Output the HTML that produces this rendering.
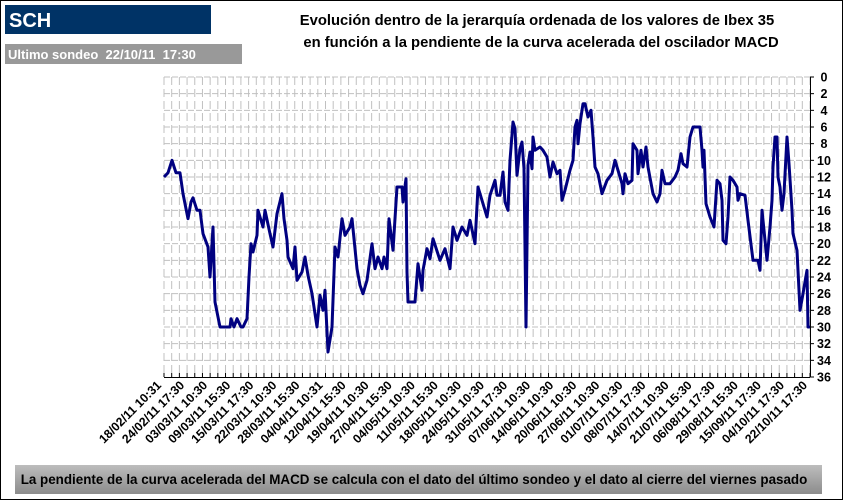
<!DOCTYPE html>
<html><head><meta charset="utf-8"><style>
html,body{margin:0;padding:0;background:#fff}
svg{display:block;font-family:"Liberation Sans",Arial,sans-serif}
text{white-space:pre}
</style></head><body>
<svg id="chart" width="843" height="500" viewBox="0 0 843 500">
<defs><linearGradient id="bg" x1="0" y1="0" x2="0" y2="1"><stop offset="0" stop-color="#bdbdbd"/><stop offset="1" stop-color="#8c8c8c"/></linearGradient></defs>
<rect x="0.5" y="0.5" width="842" height="499" fill="#fff" stroke="#000"/>
<rect x="5" y="5" width="206" height="29" fill="#003366"/>
<text x="9" y="27" fill="#fff" font-size="20" font-weight="bold">SCH</text>
<rect x="5" y="44" width="237" height="20" fill="#999"/>
<text x="8" y="59" fill="#fff" font-size="13" font-weight="bold" xml:space="preserve">Ultimo sondeo  22/10/11  17:30</text>
<text x="537" y="25" text-anchor="middle" font-size="14.8" font-weight="bold">Evolución dentro de la jerarquía ordenada de los valores de Ibex 35</text>
<text x="541" y="47" text-anchor="middle" font-size="14.8" font-weight="bold">en función a la pendiente de la curva acelerada del oscilador MACD</text>
<g id="grid"></g>
<g id="axes"></g>
<g id="series"></g>
<rect x="15" y="465" width="807" height="29" fill="url(#bg)"/>
<text x="414" y="484" text-anchor="middle" font-size="13.4" font-weight="bold">La pendiente de la curva acelerada del MACD se calcula con el dato del último sondeo y el dato al cierre del viernes pasado</text>
</svg>
<script>
const xLabels=["18/02/11 10:31","24/02/11 17:30","03/03/11 10:30","09/03/11 15:30","15/03/11 17:30","22/03/11 10:30","28/03/11 15:30","04/04/11 10:31","12/04/11 15:30","19/04/11 10:30","27/04/11 15:30","04/05/11 10:30","11/05/11 15:30","18/05/11 10:30","24/05/11 10:30","31/05/11 17:30","07/06/11 10:30","14/06/11 10:30","20/06/11 10:30","27/06/11 10:30","01/07/11 10:30","08/07/11 17:30","14/07/11 10:30","21/07/11 15:30","06/08/11 17:30","29/08/11 15:30","15/09/11 17:30","04/10/11 17:30","22/10/11 17:30"];
const yTicks=[0,2,4,6,8,10,12,14,16,18,20,22,24,26,28,30,32,34,36];
// [sample number, rank]
const obsFeb=[[0,12],[4,11.5],[8,10],[12,11.5],[16,11.5],[19,14],[24,17],[27,15],[29,14.5],[33,16],[36,16],[39,18.8],[44,20.4],[46,24],[49,18],[51,27],[56,30],[66,30],[67,29],[70,30],[73,29],[77,30],[79,30],[83,29],[85,24],[87,20],[89,21],[93,19],[94,16],[99,18],[101,16],[106,18.8],[109,20.4],[113,16.4],[118,14],[120,17],[123,19.6],[124,21.6],[129,23],[131,20.4],[133,24.4],[138,23.4],[141,21.6],[144,23.8],[148,26],[153,30],[156,26.2],[159,28],[161,25.6],[164,33],[168,30],[171,20.4],[174,21.6],[178,17],[181,19],[186,18],[188,17],[193,23],[196,25],[199,26],[203,24.4],[208,20],[211,23],[214,21.6],[218,23],[220,21.6],[223,23],[225,17]];
const obsMay=[[229,20.8],[233,13.2],[238,13.2],[239,15],[242,12.2],[243,23.4],[244,27],[251,27],[254,22.4],[258,25.6],[259,23.2],[263,20.6],[266,21.8],[269,19.4],[276,22],[281,20.6],[286,23],[289,18],[293,19.6],[298,18],[303,19],[306,17.2],[311,20],[314,13.2],[319,15.2],[323,16.8],[326,14.2],[331,12.4],[333,14.2],[336,14.2],[339,11.4],[341,15],[344,16],[346,10],[349,5.4],[351,6.2],[353,11.8],[356,8.6],[358,7.8],[360,11],[362,30],[364,10.6],[366,9],[368,11],[369,7.2],[371,8.8],[376,8.4],[379,8.8],[383,9.6],[386,12],[389,10.2],[393,11.6]];
const obsJul=[[396,11.2],[398,14.8],[401,13.6],[406,11.2],[409,10],[411,6],[413,5.2],[414,8],[416,5.6],[419,3.2],[421,3.2],[424,4.8],[427,4],[429,7.2],[431,10.8],[434,11.6],[438,14],[443,12.4],[448,11.6],[451,10],[454,11.2],[458,12.8],[459,14],[461,11.6],[464,12.8],[468,12.4],[469,8],[473,8.8],[474,11.6],[477,8.8],[479,10.8],[482,8.4],[484,10.8],[489,14],[493,15],[496,14],[498,11.2],[501,12.8],[506,12.8],[511,12],[514,11.2],[517,9.2],[519,10.4],[523,10.8],[526,7.2],[529,6],[536,6],[538,8.8],[539,10.8],[540,8.8],[542,15.2],[546,16.8],[550,18],[553,12.4],[556,12.8],[558,14.8],[559,19.6],[562,20],[564,16.8],[566,12],[569,12.4],[573,13.2],[574,14.8],[576,14],[581,14.2],[584,17.2],[589,22],[594,22],[596,23.2],[598,16],[601,19.6],[603,22],[606,18],[608,14.8],[609,10.8],[611,7.2],[613,7.2],[614,12],[616,13.2],[618,16],[620,14],[623,7.2],[625,10.4],[628,16],[629,18.8],[633,20.8],[634,23.2],[636,28],[639,26],[643,23.2],[644,30],[646,30]];
const NS='http://www.w3.org/2000/svg';
const L=164,R=810,T=77,B=377,NMAX=646;
const xS=i=>L+(R-L)*i/NMAX;
const xC=k=>L+(R-L)*k/(xLabels.length-1);
const yS=v=>T+(B-T)*v/36;
function mk(tag,attrs,parent){const e=document.createElementNS(NS,tag);for(const k in attrs)e.setAttribute(k,attrs[k]);parent.appendChild(e);return e;}
const grid=document.getElementById('grid'),axes=document.getElementById('axes'),series=document.getElementById('series');
yTicks.forEach(v=>{if(v===36)return;
 const ln=mk('line',{x1:L,x2:R,y1:yS(v),y2:yS(v),stroke:'#c0c0c0','stroke-dasharray':'6,2'},grid);
 
 
});
const nMinor=(xLabels.length-1)*3;
for(let k=0;k<=nMinor;k++){const x=L+(R-L)*k/nMinor;
 const vl=mk('line',{x1:x,x2:x,y1:T,y2:B,stroke:'#c0c0c0','stroke-dasharray':'8,4'},grid);
 
 
 const tk=mk('line',{x1:x,x2:x,y1:B,y2:B-4,stroke:'#000'},axes);
 
 
}
const xa=mk('line',{x1:L,x2:R,y1:B+0.5,y2:B+0.5,stroke:'#000'},axes);


const ya=mk('line',{x1:R+0.5,x2:R+0.5,y1:T,y2:B,stroke:'#000'},axes);


yTicks.forEach(v=>{
 const t=mk('line',{x1:R,x2:R+4,y1:yS(v),y2:yS(v),stroke:'#000'},axes);
 
 
 const tx=mk('text',{x:824,y:yS(v)+4.5,'text-anchor':'middle','font-size':12.5,'font-weight':'bold'},axes);
 tx.textContent=v;
 
 
});
xLabels.forEach((s,k)=>{const x=xC(k)-2,y=386;
 const tx=mk('text',{x:x,y:y,'text-anchor':'end','font-size':12.3,'font-weight':'bold',transform:`rotate(-45 ${x} ${y})`},axes);
 tx.textContent=s;
 
 
});
const obs=obsFeb.concat(obsMay,obsJul);
const pts=obs.map(p=>xS(p[0]).toFixed(1)+','+yS(p[1]).toFixed(1)).join(' ');
const pl=mk('polyline',{points:pts,fill:'none',stroke:'#000080','stroke-width':3,'stroke-linejoin':'round'},series);


</script>
</body></html>
